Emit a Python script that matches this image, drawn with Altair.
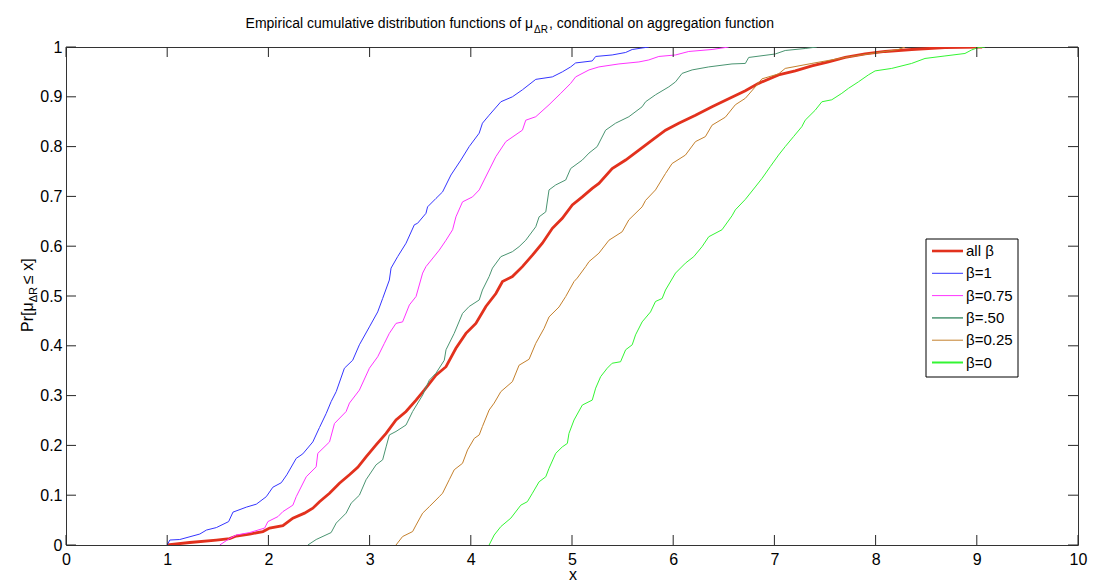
import altair as alt
import pandas as pd

# ---------------- data ----------------
SERIES = ["all β", "β=1", "β=0.75", "β=.50", "β=0.25", "β=0"]
COLORS = ["#e2311d", "#3535ff", "#ff33ff", "#4a9471", "#c4802c", "#33f533"]
WIDTHS = [2.8, 1, 1, 1, 1, 1]
LEGEND_WIDTHS = [2.6, 1, 1, 1.5, 1, 2]

ALL_X = [1.0, 1.223, 1.486, 1.617, 1.683, 1.815, 1.946, 2.012, 2.143, 2.242, 2.357, 2.439, 2.505,
         2.604, 2.702, 2.801, 2.883, 2.965, 3.064, 3.163, 3.261, 3.36, 3.459, 3.54, 3.656, 3.755,
         3.853, 3.952, 4.05, 4.149, 4.248, 4.313, 4.411, 4.51, 4.609, 4.707, 4.806, 4.904, 5.003,
         5.102, 5.2, 5.266, 5.397, 5.53, 5.661, 5.792, 5.924, 6.055, 6.22, 6.384, 6.548, 6.713,
         6.844, 7.041, 7.206, 7.37, 7.535, 7.699, 7.896, 8.094, 8.356, 8.685, 9.053]
ALL_Y = [0, 0.005, 0.01, 0.013, 0.018, 0.022, 0.027, 0.034, 0.039, 0.054, 0.064, 0.074, 0.087,
         0.104, 0.124, 0.141, 0.156, 0.177, 0.201, 0.224, 0.251, 0.268, 0.291, 0.311, 0.341, 0.358,
         0.395, 0.425, 0.445, 0.479, 0.505, 0.529, 0.539, 0.559, 0.582, 0.606, 0.636, 0.656, 0.683,
         0.699, 0.716, 0.726, 0.756, 0.773, 0.793, 0.813, 0.833, 0.847, 0.863, 0.88, 0.896, 0.912,
         0.927, 0.944, 0.952, 0.962, 0.97, 0.979, 0.986, 0.991, 0.995, 0.999, 1.0]

B1_X = [1.0, 1.026, 1.124, 1.322, 1.388, 1.486, 1.607, 1.65, 1.782, 1.881, 1.979, 2.044, 2.127,
        2.182, 2.275, 2.34, 2.439, 2.505, 2.571, 2.62, 2.67, 2.751, 2.833, 2.899, 2.998, 3.08,
        3.129, 3.195, 3.212, 3.277, 3.36, 3.442, 3.474, 3.557, 3.573, 3.656, 3.721, 3.804, 3.902,
        3.984, 4.083, 4.115, 4.181, 4.297, 4.411, 4.51, 4.642, 4.806, 4.904, 4.987, 5.036, 5.2,
        5.234, 5.397, 5.53, 5.595, 5.693, 5.759]
B1_Y = [0, 0.01, 0.011, 0.022, 0.03, 0.035, 0.047, 0.066, 0.076, 0.082, 0.097, 0.116, 0.125,
        0.141, 0.174, 0.183, 0.207, 0.236, 0.264, 0.288, 0.308, 0.355, 0.371, 0.402, 0.438, 0.468,
        0.495, 0.532, 0.556, 0.579, 0.606, 0.643, 0.646, 0.666, 0.679, 0.696, 0.709, 0.743, 0.773,
        0.8, 0.827, 0.847, 0.863, 0.89, 0.9, 0.914, 0.935, 0.94, 0.95, 0.96, 0.968, 0.972,
        0.981, 0.984, 0.989, 0.995, 0.998, 1.0]

B075_X = [1.519, 1.617, 1.683, 1.815, 1.963, 1.995, 2.094, 2.143, 2.242, 2.275, 2.374, 2.472,
          2.488, 2.604, 2.653, 2.768, 2.801, 2.899, 2.998, 3.08, 3.146, 3.195, 3.261, 3.326,
          3.393, 3.459, 3.524, 3.557, 3.688, 3.755, 3.82, 3.853, 3.918, 4.017, 4.083, 4.132,
          4.248, 4.346, 4.51, 4.543, 4.642, 4.773, 4.889, 4.987, 5.036, 5.168, 5.266, 5.464,
          5.661, 5.759, 5.858, 6.023, 6.154, 6.384, 6.548]
B075_Y = [0, 0.013, 0.02, 0.025, 0.034, 0.047, 0.057, 0.067, 0.08, 0.097, 0.137, 0.157, 0.184,
          0.207, 0.244, 0.268, 0.285, 0.311, 0.355, 0.378, 0.405, 0.425, 0.445, 0.448, 0.482,
          0.499, 0.546, 0.559, 0.592, 0.612, 0.633, 0.659, 0.689, 0.699, 0.713, 0.733, 0.78,
          0.81, 0.833, 0.853, 0.86, 0.884, 0.907, 0.927, 0.94, 0.954, 0.96, 0.966, 0.97, 0.974,
          0.981, 0.984, 0.991, 0.995, 1.0]

B050_X = [2.39, 2.472, 2.62, 2.67, 2.768, 2.818, 2.899, 2.965, 3.064, 3.129, 3.163, 3.195, 3.261,
          3.36, 3.425, 3.524, 3.59, 3.656, 3.738, 3.755, 3.836, 3.918, 3.984, 4.083, 4.115,
          4.181, 4.214, 4.297, 4.411, 4.477, 4.543, 4.642, 4.675, 4.741, 4.773, 4.839, 4.938,
          4.987, 5.102, 5.168, 5.249, 5.332, 5.431, 5.562, 5.693, 5.727, 5.825, 5.957, 6.023,
          6.088, 6.187, 6.351, 6.581, 6.713, 6.746, 7.009, 7.107, 7.304, 7.419]
B050_Y = [0, 0.011, 0.025, 0.044, 0.064, 0.084, 0.1, 0.131, 0.161, 0.171, 0.197, 0.221, 0.228,
          0.241, 0.268, 0.301, 0.331, 0.345, 0.371, 0.392, 0.425, 0.465, 0.479, 0.492, 0.512,
          0.539, 0.556, 0.579, 0.589, 0.599, 0.612, 0.639, 0.659, 0.669, 0.713, 0.723, 0.733,
          0.756, 0.773, 0.787, 0.8, 0.833, 0.847, 0.86, 0.88, 0.89, 0.904, 0.92, 0.93, 0.947,
          0.954, 0.96, 0.966, 0.967, 0.979, 0.986, 0.993, 0.997, 1.0]

B025_X = [3.261, 3.326, 3.425, 3.459, 3.524, 3.59, 3.688, 3.721, 3.787, 3.836, 3.918, 3.968,
          4.034, 4.083, 4.115, 4.181, 4.231, 4.297, 4.411, 4.477, 4.576, 4.642, 4.724, 4.773,
          4.872, 4.938, 5.02, 5.052, 5.135, 5.168, 5.266, 5.365, 5.496, 5.562, 5.693, 5.727,
          5.825, 5.924, 5.989, 6.121, 6.22, 6.318, 6.384, 6.515, 6.614, 6.713, 6.811, 6.877,
          7.041, 7.107, 7.37, 7.699, 8.028, 8.225, 8.291]
B025_Y = [0, 0.017, 0.027, 0.04, 0.064, 0.077, 0.097, 0.104, 0.131, 0.151, 0.164, 0.191, 0.214,
          0.221, 0.238, 0.271, 0.285, 0.308, 0.328, 0.361, 0.373, 0.405, 0.435, 0.458, 0.478,
          0.499, 0.529, 0.536, 0.559, 0.569, 0.586, 0.612, 0.629, 0.653, 0.679, 0.692, 0.713,
          0.746, 0.766, 0.783, 0.81, 0.82, 0.843, 0.859, 0.884, 0.897, 0.92, 0.936, 0.946,
          0.957, 0.967, 0.979, 0.989, 0.995, 1.0]

B0_X = [4.181, 4.231, 4.297, 4.396, 4.494, 4.559, 4.609, 4.675, 4.741, 4.773, 4.839, 4.904,
        4.954, 4.97, 5.02, 5.102, 5.2, 5.234, 5.283, 5.348, 5.397, 5.48, 5.53, 5.595, 5.628,
        5.693, 5.776, 5.825, 5.891, 5.924, 6.023, 6.121, 6.203, 6.285, 6.351, 6.482, 6.581,
        6.614, 6.713, 6.811, 6.877, 6.96, 7.041, 7.107, 7.189, 7.271, 7.304, 7.403, 7.469,
        7.567, 7.666, 7.732, 7.83, 7.929, 7.995, 8.159, 8.356, 8.488, 8.685, 8.883, 8.948,
        9.014, 9.08]
B0_Y = [0, 0.02, 0.037, 0.054, 0.08, 0.087, 0.104, 0.127, 0.137, 0.154, 0.184, 0.197, 0.204,
        0.224, 0.251, 0.281, 0.291, 0.315, 0.338, 0.355, 0.365, 0.368, 0.392, 0.402, 0.422,
        0.448, 0.468, 0.489, 0.495, 0.512, 0.546, 0.566, 0.579, 0.599, 0.619, 0.633, 0.661,
        0.673, 0.694, 0.719, 0.736, 0.76, 0.783, 0.8, 0.82, 0.84, 0.853, 0.873, 0.89, 0.894,
        0.907, 0.917, 0.93, 0.944, 0.952, 0.957, 0.967, 0.977, 0.982, 0.987, 0.994, 0.999, 1.0]

X_TICKS = [0, 1, 2, 3, 4, 5, 6, 7, 8, 9, 10]
Y_TICKS = [0, 0.1, 0.2, 0.3, 0.4, 0.5, 0.6, 0.7, 0.8, 0.9, 1]

TITLE_MAIN = "Empirical cumulative distribution functions of μ"
TITLE_SUB = "ΔR"
TITLE_END = ", conditional on aggregation function"
YLAB_MAIN = "Pr[μ"
YLAB_SUB = "ΔR"
YLAB_END = "≤ x]"
XLAB = "x"

# ---------------- build table ----------------
CURVES = [(ALL_X, ALL_Y), (B1_X, B1_Y), (B075_X, B075_Y), (B050_X, B050_Y),
          (B025_X, B025_Y), (B0_X, B0_Y)]
rows = []
for name, (xs_, ys_) in zip(SERIES, CURVES):
    assert len(xs_) == len(ys_), name
    for i, (a, b) in enumerate(zip(xs_, ys_)):
        rows.append({"series": name, "x": a, "y": b, "i": i})
df = pd.DataFrame(rows)

W, H = 1012, 498
FONT = "Liberation Sans"

xscale = alt.Scale(domain=[0, 10], nice=False, zero=False)
yscale = alt.Scale(domain=[0, 1], nice=False, zero=False)
cscale = alt.Scale(domain=SERIES, range=COLORS)

LABEL_EXPR = "'' + datum.value"
x_axis = alt.Axis(values=X_TICKS, ticks=False, domain=False, grid=False, labelPadding=6,
                  labelFontSize=16, labelFont=FONT, labelColor="black", title=None,
                  labelExpr=LABEL_EXPR, labelFlush=False)
y_axis = alt.Axis(values=Y_TICKS, ticks=False, domain=False, grid=False, labelPadding=4,
                  labelFontSize=16, labelFont=FONT, labelColor="black", title=None,
                  labelExpr=LABEL_EXPR, labelFlush=False)


def curve_layer(names, width):
    return alt.Chart(df[df["series"].isin(names)]).mark_line(strokeWidth=width, clip=True).encode(
        x=alt.X("x:Q", scale=xscale, axis=x_axis),
        y=alt.Y("y:Q", scale=yscale, axis=y_axis),
        color=alt.Color("series:N", scale=cscale, legend=None),
        order=alt.Order("i:Q"),
    )


red = curve_layer([SERIES[0]], WIDTHS[0])
others = curve_layer(SERIES[1:], 1)

tx = pd.DataFrame({"v": X_TICKS})
ty = pd.DataFrame({"v": Y_TICKS})
TICK = 10
TC = "#262626"
bottom_ticks = alt.Chart(tx).mark_rule(color=TC, strokeWidth=1).encode(
    x=alt.X("v:Q", scale=xscale, axis=x_axis), y=alt.value(H), y2=alt.value(H - TICK))
top_ticks = alt.Chart(tx).mark_rule(color=TC, strokeWidth=1).encode(
    x=alt.X("v:Q", scale=xscale, axis=x_axis), y=alt.value(0), y2=alt.value(TICK))
left_ticks = alt.Chart(ty).mark_rule(color=TC, strokeWidth=1).encode(
    y=alt.Y("v:Q", scale=yscale, axis=y_axis), x=alt.value(0), x2=alt.value(TICK))
right_ticks = alt.Chart(ty).mark_rule(color=TC, strokeWidth=1).encode(
    y=alt.Y("v:Q", scale=yscale, axis=y_axis), x=alt.value(W), x2=alt.value(W - TICK))


def text(t, x, y, size, align="left", baseline="alphabetic", angle=0, font=FONT):
    kw = dict(align=align, baseline=baseline, fontSize=size, font=font, color="black")
    if angle:
        kw["angle"] = angle
    return alt.Chart(pd.DataFrame({"t": [t]})).mark_text(**kw).encode(
        x=alt.value(x), y=alt.value(y), text="t:N")


texts = [
    text(TITLE_MAIN, 467, -19, 14, align="right"),
    text(TITLE_SUB, 468, -14.5, 10),
    text(TITLE_END, 483, -19, 14),
    text(YLAB_MAIN, -33, 285, 16, angle=270),
    text(YLAB_SUB, -29.5, 255.3, 11, angle=270),
    text(YLAB_END, -33, 237, 16, angle=270),
    text(XLAB, 507, 533, 16, align="center"),
]

# legend (manual, MATLAB style box)
LX0, LX1, LY0, LY1 = 860, 952, 192, 330
legend_box = alt.Chart(pd.DataFrame({"a": [0]})).mark_rect(
    fill="white", stroke="black", strokeWidth=1).encode(
    x=alt.value(LX0), x2=alt.value(LX1), y=alt.value(LY0), y2=alt.value(LY1))
legend_items = []
for k, name in enumerate(SERIES):
    yy = 204 + 22.3 * k
    legend_items.append(
        alt.Chart(pd.DataFrame({"s": [name]})).mark_rule(
            color=COLORS[k], strokeWidth=LEGEND_WIDTHS[k]).encode(
            x=alt.value(866), x2=alt.value(897), y=alt.value(yy)))
    legend_items.append(text(name, 900, yy, 15, baseline="middle"))

chart = alt.layer(
    red, others, bottom_ticks, top_ticks, left_ticks, right_ticks,
    legend_box, *legend_items, *texts
).properties(
    width=W, height=H,
    padding={"left": 58, "top": 39, "right": 10, "bottom": 37},
    autosize=alt.AutoSizeParams(type="none"),
    background="white",
).configure_view(stroke="#333333", strokeWidth=1)

chart.save("out.html", embed_options={"renderer": "svg", "actions": False})
